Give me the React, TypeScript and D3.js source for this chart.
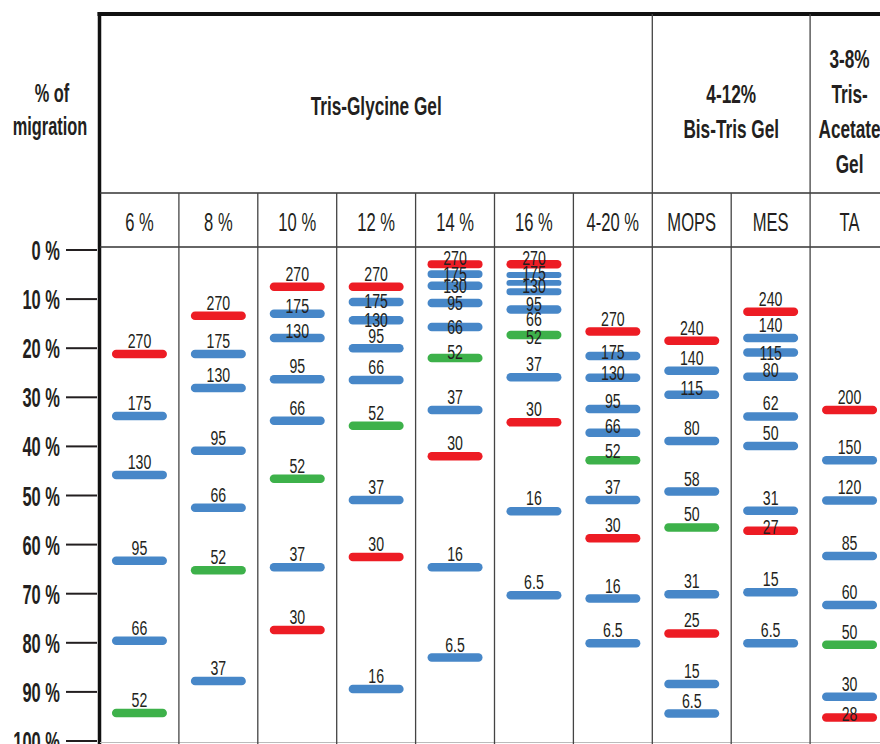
import * as d3 from 'd3'

// One marker band: [size label (kDa), % of migration, dye, label baseline in % (only where the label was moved)]
type Dye = 'r' | 'b' | 'g'
type Band = [string, number, Dye, number?]

const LANES = ['6 %', '8 %', '10 %', '12 %', '14 %', '16 %', '4-20 %', 'MOPS', 'MES', 'TA']

const TG_6: Band[] = [['270', 21.2, 'r'], ['175', 33.8, 'b'], ['130', 45.8, 'b'], ['95', 63.3, 'b'], ['66', 79.6, 'b'], ['52', 94.3, 'g']]
const TG_8: Band[] = [['270', 13.4, 'r'], ['175', 21.2, 'b'], ['130', 28.1, 'b'], ['95', 40.9, 'b'], ['66', 52.5, 'b'], ['52', 65.2, 'g'], ['37', 87.8, 'b']]
const TG_10: Band[] = [['270', 7.5, 'r'], ['175', 13.0, 'b', 12.8], ['130', 17.9, 'b', 18.0], ['95', 26.3, 'b'], ['66', 34.8, 'b'], ['52', 46.6, 'g'], ['37', 64.6, 'b'], ['30', 77.4, 'r']]
const TG_12: Band[] = [['270', 7.5, 'r'], ['175', 10.6, 'b', 11.9], ['130', 14.3, 'b', 15.6], ['95', 20.0, 'b', 19.0], ['66', 26.5, 'b'], ['52', 35.8, 'g'], ['37', 50.9, 'b'], ['30', 62.5, 'r'], ['16', 89.4, 'b']]
const TG_14: Band[] = [['270', 2.9, 'r', 3.1], ['175', 4.9, 'b', 6.3], ['130', 7.3, 'b', 8.8], ['95', 10.8, 'b', 12.2], ['66', 15.7, 'b', 17.1], ['52', 22.0, 'g', 22.2], ['37', 32.6, 'b'], ['30', 42.0, 'r'], ['16', 64.6, 'b'], ['6.5', 83.0, 'b']]
const TG_16: Band[] = [['270', 2.9, 'r', 3.1], ['175', 5.1, 'b', 6.1], ['130', 6.7, 'b', 8.8], ['95', 8.5, 'b', 12.4], ['66', 12.1, 'b', 15.4], ['52', 17.3, 'g', 19.2], ['37', 25.9, 'b'], ['30', 35.1, 'r'], ['16', 53.2, 'b'], ['6.5', 70.3, 'b']]
const TG_4_20: Band[] = [['270', 16.6, 'r'], ['175', 21.6, 'b', 22.1], ['130', 26.0, 'b', 26.5], ['95', 32.4, 'b', 32.2], ['66', 37.2, 'b', 37.3], ['52', 42.8, 'g', 42.4], ['37', 50.9, 'b'], ['30', 58.7, 'r'], ['16', 71.0, 'b'], ['6.5', 80.1, 'b']]
const BT_MOPS: Band[] = [['240', 18.5, 'r'], ['140', 24.6, 'b'], ['115', 29.5, 'b', 29.5], ['80', 38.9, 'b'], ['58', 49.2, 'b'], ['50', 56.5, 'g'], ['31', 70.1, 'b'], ['25', 78.1, 'r'], ['15', 88.4, 'b'], ['6.5', 94.4, 'b']]
const BT_MES: Band[] = [['240', 12.6, 'r'], ['140', 17.9, 'b'], ['115', 20.9, 'b', 22.4], ['80', 25.8, 'b', 25.8], ['62', 33.9, 'b'], ['50', 39.9, 'b'], ['31', 53.1, 'b'], ['27', 57.2, 'r', 57.8], ['15', 69.7, 'b'], ['6.5', 80.1, 'b']]
const TA_TA: Band[] = [['200', 32.6, 'r'], ['150', 42.8, 'b'], ['120', 51.0, 'b'], ['85', 62.3, 'b'], ['60', 72.3, 'b'], ['50', 80.4, 'g'], ['30', 91.0, 'b'], ['28', 95.2, 'r', 95.9]]

const LANE_BANDS = [TG_6, TG_8, TG_10, TG_12, TG_14, TG_16, TG_4_20, BT_MOPS, BT_MES, TA_TA]

// gel groups over the lanes
const GROUP_TITLES = [['Tris-Glycine Gel'], ['4-12%', 'Bis-Tris Gel'], ['3-8%', 'Tris-', 'Acetate', 'Gel']]
const GROUP_SIZES = [7, 2, 1]

const TICKS = [0, 10, 20, 30, 40, 50, 60, 70, 80, 90, 100]

const DYE_COLORS: Record<Dye, string> = { r: '#ED1C24', b: '#4787C8', g: '#3DB14A' }
const INK = '#231F20'
const FONT = "'Liberation Sans', Arial, Helvetica, sans-serif"

const WIDTH = 880
const HEIGHT = 744
const TOP = 14
const HEAD_SPLIT = 193
const DATA_TOP = 247

const x = d3.scaleBand<string>().domain(LANES).range([100, 889]).padding(0)
const y = d3.scaleLinear().domain([0, 100]).range([250, 741])

const BAND_W = 55
const BAND_H = 8.5

// narrow, tall type like the original: font size for height, squeeze horizontally
const Label = ({ tx, ty, sx, size, bold, anchor = 'middle', children }: any) => (
  <text
    transform={`translate(${tx},${ty}) scale(${sx},1)`}
    textAnchor={anchor}
    fontFamily={FONT}
    fontSize={size}
    fontWeight={bold ? 'bold' : 'normal'}
    fill={INK}
  >
    {children}
  </text>
)

export default function App() {
  const step = x.step()

  // group edges in px
  let acc = 0
  const groups = GROUP_SIZES.map((n, i) => {
    const x0 = x(LANES[acc])!
    const x1 = x0 + n * step
    const first = acc
    acc += n
    return { x0, x1, first, n, title: GROUP_TITLES[i] }
  })

  return (
    <svg
      width={WIDTH}
      height={HEIGHT}
      style={{ position: 'absolute', left: 0, top: 0, display: 'block', background: '#fff' }}
    >
      {/* y axis caption */}
      <Label tx={52} ty={102} sx={0.63} size={26} bold>% of</Label>
      <Label tx={50} ty={135} sx={0.63} size={26} bold>migration</Label>

      {/* y ticks */}
      {TICKS.map(t => (
        <g key={t}>
          <line x1={66} x2={97} y1={y(t)} y2={y(t)} stroke={INK} strokeWidth={2} />
          <Label tx={60} ty={y(t) + 10} sx={0.61} size={27} bold anchor="end">{`${t} %`}</Label>
        </g>
      ))}

      {/* table grid */}
      <line x1={97.5} x2={WIDTH} y1={TOP} y2={TOP} stroke="#111" strokeWidth={4} />
      <line x1={99.5} x2={99.5} y1={TOP - 2} y2={HEIGHT} stroke="#111" strokeWidth={3.5} />
      <line x1={100} x2={WIDTH} y1={HEAD_SPLIT} y2={HEAD_SPLIT} stroke="#333" strokeWidth={1.5} />
      <line x1={100} x2={WIDTH} y1={DATA_TOP} y2={DATA_TOP} stroke="#333" strokeWidth={1.7} />
      <line x1={100} x2={WIDTH} y1={742.5} y2={742.5} stroke="#bbb" strokeWidth={1} />
      {LANES.slice(1).map(l => {
        const lx = x(l)!
        const isGroupEdge = groups.some(g => g.x0 === lx)
        return (
          <line
            key={l}
            x1={lx}
            x2={lx}
            y1={isGroupEdge ? TOP : HEAD_SPLIT}
            y2={HEIGHT}
            stroke="#444"
            strokeWidth={1.3}
          />
        )
      })}

      {/* group titles */}
      {groups.map((g, gi) => {
        const cx = (g.x0 + g.x1) / 2
        const mid = g.title.length === 1 ? 115 : 120
        return g.title.map((line, i) => (
          <Label key={gi + '-' + i} tx={cx} ty={mid + (i - (g.title.length - 1) / 2) * 35} sx={0.65} size={26.5} bold>
            {line}
          </Label>
        ))
      })}

      {/* lane headers */}
      {LANES.map(l => (
        <Label key={l} tx={x(l)! + step / 2} ty={231} sx={0.65} size={25.5}>{l}</Label>
      ))}

      {/* bands */}
      {LANE_BANDS.map((bands, li) => {
        const cx = x(LANES[li])! + step / 2
        return bands.map(([kda, pct], bi) => {
          const cy = y(pct)
          const gaps = [bands[bi - 1], bands[bi + 1]]
            .filter(Boolean)
            .map(o => Math.abs(y(o![1]) - cy))
          const h = Math.min(BAND_H, ...gaps.map(g => g - 2))
          return (
            <rect
              key={li + '-' + kda + '-' + bi}
              x={cx - BAND_W / 2}
              y={cy - h / 2}
              width={BAND_W}
              height={h}
              rx={h / 2}
              fill={DYE_COLORS[bands[bi][2]]}
            />
          )
        })
      })}

      {/* band labels */}
      {LANE_BANDS.map((bands, li) => {
        const cx = x(LANES[li])! + step / 2
        return bands.map(([kda, pct, , labelPct], bi) => (
          <Label
            key={li + '-l-' + bi}
            tx={cx}
            ty={labelPct !== undefined ? y(labelPct) : y(pct) - 6}
            sx={0.69}
            size={20.5}
          >
            {kda}
          </Label>
        ))
      })}
    </svg>
  )
}
